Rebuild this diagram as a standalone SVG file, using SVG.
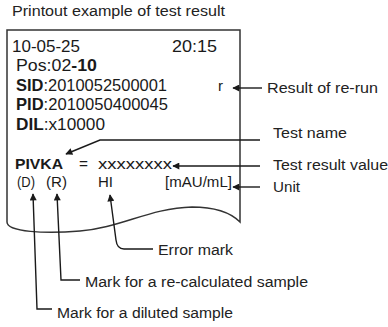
<svg xmlns="http://www.w3.org/2000/svg" width="388" height="327" viewBox="0 0 388 327">
<defs>
<marker id="ah" viewBox="0 0 10 10" refX="9" refY="5" markerWidth="8" markerHeight="7" markerUnits="userSpaceOnUse" orient="auto">
<path d="M0,0 L10,5 L0,10 Z" fill="#1a1a1a"/>
</marker>
<style>
.lbl{font-family:"Liberation Sans",Arial,sans-serif;font-size:14px;fill:#222}
.pr{font-family:"Liberation Sans",Arial,sans-serif;font-size:17px;fill:#1a1a1a}
.ps{font-size:15px}
.b{font-weight:bold}
.paper{fill:#fff;stroke:#333;stroke-width:1.5}
.c{fill:none;stroke:#1a1a1a;stroke-width:1.4}
</style>
</defs>
<rect width="388" height="327" fill="#fff"/>
<text class="lbl" x="12" y="16" textLength="213" lengthAdjust="spacingAndGlyphs" font-size="13">Printout example of test result</text>
<g id="paper">
<path class="paper" d="M7,30 H240 V222 C230,212 215,207 192,207 C150,208 120,228 80,231 C45,234 7,232 7,222 Z"/>
<text class="pr" x="12" y="52" textLength="68" lengthAdjust="spacingAndGlyphs">10-05-25</text>
<text class="pr" x="172" y="52" textLength="45" lengthAdjust="spacingAndGlyphs">20:15</text>
<text class="pr" x="16" y="71" textLength="81" lengthAdjust="spacingAndGlyphs">Pos:02<tspan class="b">-10</tspan></text>
<text class="pr" x="16" y="91" textLength="151" lengthAdjust="spacingAndGlyphs"><tspan class="b">SID</tspan>:2010052500001</text>
<text class="pr" x="16" y="110" textLength="152" lengthAdjust="spacingAndGlyphs"><tspan class="b">PID</tspan>:2010050400045</text>
<text class="pr" x="16" y="130" textLength="89" lengthAdjust="spacingAndGlyphs"><tspan class="b">DIL</tspan>:x10000</text>
<text class="pr ps" x="218" y="91">r</text>
<text class="pr ps b" x="15" y="169" textLength="48" lengthAdjust="spacingAndGlyphs">PIVKA</text>
<text class="pr ps" x="79" y="169" textLength="9" lengthAdjust="spacingAndGlyphs">=</text>
<text class="pr ps" x="98" y="169" textLength="74" lengthAdjust="spacingAndGlyphs">xxxxxxxx</text>
<text class="pr ps" x="17" y="187" textLength="18" lengthAdjust="spacingAndGlyphs">(D)</text>
<text class="pr ps" x="46" y="187" textLength="21" lengthAdjust="spacingAndGlyphs">(R)</text>
<text class="pr ps" x="98" y="187" textLength="15" lengthAdjust="spacingAndGlyphs">HI</text>
<text class="pr ps" x="165" y="187" textLength="67" lengthAdjust="spacingAndGlyphs">[mAU/mL]</text>
</g>
<g id="connectors">
<path class="c" d="M262,88 H233" marker-end="url(#ah)"/>
<path class="c" d="M260,140 H100 L66,154" marker-end="url(#ah)"/>
<path class="c" d="M260,166 H173" marker-end="url(#ah)"/>
<path class="c" d="M260,187 H233" marker-end="url(#ah)"/>
<path class="c" d="M153,249 H124 Q117,249 116,240 L110,195" marker-end="url(#ah)"/>
<path class="c" d="M80,280 H61 L57,194" marker-end="url(#ah)"/>
<path class="c" d="M52,309 H37 L33,194" marker-end="url(#ah)"/>
</g>
<g id="label-rerun"><text class="lbl" x="267" y="93" textLength="111" lengthAdjust="spacingAndGlyphs">Result of re-run</text></g>
<g id="label-testname"><text class="lbl" x="273" y="138" textLength="74" lengthAdjust="spacingAndGlyphs">Test name</text></g>
<g id="label-value"><text class="lbl" x="273" y="170" textLength="115" lengthAdjust="spacingAndGlyphs">Test result value</text></g>
<g id="label-unit"><text class="lbl" x="273" y="192" textLength="27" lengthAdjust="spacingAndGlyphs">Unit</text></g>
<g id="label-error"><text class="lbl" x="158" y="255" textLength="75" lengthAdjust="spacingAndGlyphs">Error mark</text></g>
<g id="label-recalc"><text class="lbl" x="85" y="287" textLength="223" lengthAdjust="spacingAndGlyphs">Mark for a re-calculated sample</text></g>
<g id="label-diluted"><text class="lbl" x="57" y="318" textLength="176" lengthAdjust="spacingAndGlyphs">Mark for a diluted sample</text></g>
</svg>
